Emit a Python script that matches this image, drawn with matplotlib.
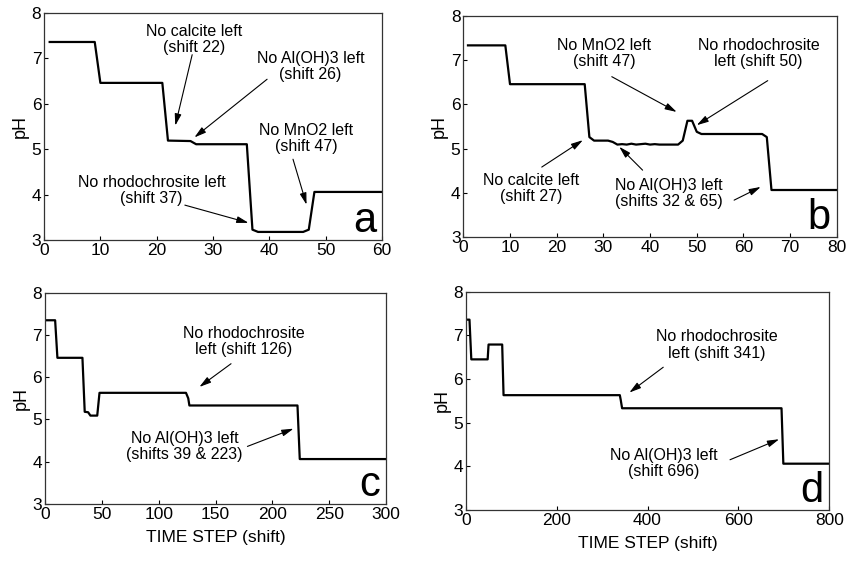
import matplotlib
matplotlib.use('agg')

import matplotlib.pyplot as plt

plt.rcParams['font.family'] = ['Liberation Sans', 'DejaVu Sans']

# panel a
a_shift = [1, 9, 10, 21, 22, 26, 27, 36, 37, 38, 46, 47, 48, 60]
a_ph = [7.36, 7.36, 6.46, 6.46, 5.19, 5.18, 5.11, 5.11, 3.23, 3.18, 3.18, 3.23, 4.06, 4.06]

# panel b
b_shift = [1, 9, 10, 26, 27, 28, 31, 32, 33, 34, 35, 36, 37, 38, 39, 40, 41, 42, 43,
           44, 45, 46, 47, 48, 49, 50, 51, 64, 65, 66, 80]
b_ph = [7.34, 7.34, 6.46, 6.46, 5.26, 5.18, 5.18, 5.15, 5.09, 5.10, 5.09, 5.11, 5.09,
        5.10, 5.11, 5.09, 5.10, 5.09, 5.09, 5.09, 5.09, 5.09, 5.18, 5.63, 5.63, 5.38,
        5.33, 5.33, 5.26, 4.06, 4.06]

# panel c
c_shift = [0, 9, 11, 33, 35, 38, 40, 46, 48, 124, 126, 127, 222, 224, 300]
c_ph = [7.35, 7.35, 6.46, 6.46, 5.18, 5.17, 5.09, 5.09, 5.63, 5.63, 5.5, 5.33, 5.33, 4.06, 4.06]

# panel d
d_shift = [0, 8, 12, 48, 50, 80, 83, 339, 341, 344, 695, 699, 800]
d_ph = [7.36, 7.36, 6.45, 6.45, 6.79, 6.79, 5.63, 5.63, 5.52, 5.33, 5.33, 4.06, 4.06]

x_limits = [60, 80, 300, 800]
x_ticks = [range(0, 61, 10), range(0, 81, 10), range(0, 301, 50), range(0, 801, 200)]
letters = ['a', 'b', 'c', 'd']

# (text, text xy, [arrow tips])  -- all in data coords
notes = [
    [('No calcite left\n(shift 22)', (26.7, 7.41), [((26.3, 7.08), (23.3, 5.52))]),
     ('No Al(OH)3 left\n(shift 26)', (47.3, 6.82), [((39.6, 6.54), (26.7, 5.26))]),
     ('No MnO2 left\n(shift 47)', (46.6, 5.24), [((44.2, 4.78), (46.6, 3.78))]),
     ('No rhodochrosite left\n(shift 37)', (19.1, 4.10), [((25.0, 3.77), (36.3, 3.38))])],
    [('No MnO2 left\n(shift 47)', (30.2, 7.15), [((31.8, 6.63), (45.7, 5.83))]),
     ('No rhodochrosite\nleft (shift 50)', (63.2, 7.15), [((65.2, 6.54), (50.0, 5.53))]),
     ('No calcite left\n(shift 27)', (14.5, 4.09), [((16.8, 4.58), (25.6, 5.19))]),
     ('No Al(OH)3 left\n(shifts 32 & 65)', (44.1, 3.98),
      [((38.4, 4.51), (33.4, 5.04)), ((58.0, 3.83), (63.7, 4.13))])],
    [('No rhodochrosite\nleft (shift 126)', (174.5, 6.85), [((163.6, 6.32), (135.8, 5.77))]),
     ('No Al(OH)3 left\n(shifts 39 & 223)', (122.6, 4.36), [((178, 4.36), (218.5, 4.78))])],
    [('No rhodochrosite\nleft (shift 341)', (553, 6.78), [((434.6, 6.27), (360, 5.69))]),
     ('No Al(OH)3 left\n(shift 696)', (435, 4.07), [((581.6, 4.15), (689.7, 4.62))])],
]

fig = plt.figure(figsize=(8.47, 5.61), dpi=100)
boxes = [
    [0.052, 0.572, 0.399, 0.405],
    [0.547, 0.578, 0.441, 0.393],
    [0.053, 0.102, 0.403, 0.376],
    [0.550, 0.091, 0.429, 0.389],
]
series = [(a_shift, a_ph), (b_shift, b_ph), (c_shift, c_ph), (d_shift, d_ph)]

for i, box in enumerate(boxes):
    ax = fig.add_axes(box)
    x, y = series[i]
    ax.plot(x, y, color='black', lw=1.6)
    ax.set_xlim(0, x_limits[i])
    ax.set_ylim(3, 8)
    ax.set_xticks(list(x_ticks[i]))
    ax.set_yticks([3, 4, 5, 6, 7, 8])
    ax.tick_params(direction='in', length=3, width=0.8, labelsize=12.5, pad=2)
    for s in ax.spines.values():
        s.set_linewidth(0.9)
        s.set_color('#333333')
    ax.set_ylabel('pH', fontsize=13, labelpad=2)
    if i >= 2:
        ax.set_xlabel('TIME STEP (shift)', fontsize=12.5, labelpad=6)

    for txt, pos, arrows in notes[i]:
        ax.text(pos[0], pos[1], txt, ha='center', va='center', fontsize=11.5,
                linespacing=1.1)
        for start, tip in arrows:
            ax.annotate('', xy=tip, xytext=start,
                        arrowprops=dict(arrowstyle='-|>,head_length=0.7,head_width=0.2',
                                        color='black', lw=0.8, shrinkA=0, shrinkB=0))

    ax.text(0.983, 0.035, letters[i], transform=ax.transAxes, ha='right',
            va='baseline', fontsize=30)

fig.savefig('out.png', dpi=100)
